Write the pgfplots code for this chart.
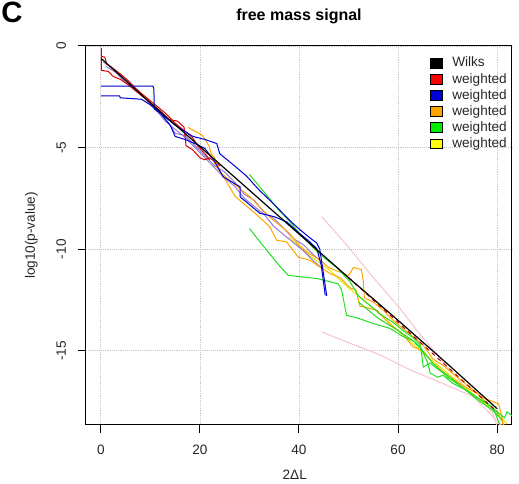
\documentclass[border=0pt]{standalone}
\usepackage{pgfplots}
\pgfplotsset{compat=1.18}
\usepackage{fontspec}
\setmainfont{Liberation Sans}
\definecolor{rred}{HTML}{E00000}
\definecolor{rblue}{HTML}{0000D0}
\definecolor{rorange}{HTML}{FFA500}
\definecolor{rgreen}{HTML}{22DD22}
\definecolor{lgreen}{HTML}{00EE00}
\definecolor{ryellow}{HTML}{FFFF00}
\definecolor{rpink}{HTML}{F4C4CC}
\definecolor{rpurple}{HTML}{7A5CC8}
\begin{document}
\begin{tikzpicture}[x=0.75pt,y=0.75pt]
\useasboundingbox (-86,-59) rectangle (433,425);
\clip (-86,-59) rectangle (433,425);
\node[anchor=north west, inner sep=0pt, font=\fontsize{22}{22}\selectfont\bfseries] at (-85,423) {C};
\begin{axis}[
  at={(0pt,0pt)}, anchor=south west,
  scale only axis, width=319.5pt, height=284.25pt,
  xmin=-3, xmax=83, ymin=-18.65, ymax=0,
  xtick={0,20,40,60,80}, xticklabels={0,20,40,60,80},
  ytick={-15,-10,-5,0}, yticklabels={-15,-10,-5,0},
  tick pos=left, tick align=outside, major tick length=6pt,
  tick style={black, line width=0.75pt},
  axis line style={black, line width=0.75pt},
  grid=major, grid style={densely dotted, gray!45, line width=0.6pt},
  ticklabel style={font=\fontsize{10.2}{12}\selectfont, text=black!85},
  xticklabel style={anchor=base, yshift=-16.5pt},
  yticklabel style={xshift=-9pt, rotate=90, anchor=base},
  title={free mass signal},
  title style={at={(0.5,1)}, anchor=base, yshift=13pt, font=\fontsize{12}{14}\selectfont\bfseries},
  xlabel={2ΔL},
  xlabel style={at={(axis description cs:0.49,-0.145)}, anchor=base, font=\fontsize{10.2}{12}\selectfont, text=black!85},
  ylabel={log10(p-value)},
  ylabel style={at={(axis description cs:-0.128,0.5)}, anchor=center, font=\fontsize{10.2}{12}\selectfont, text=black!85},
  legend cell align=left,
  legend style={draw=none, fill=none, at={(0.807,0.975)}, anchor=north west,
    inner sep=0pt, row sep=1.2pt, nodes={inner sep=1pt, font=\fontsize{10.2}{11}\selectfont, text=black!85}},
  legend image code/.code={\draw[#1, draw=black, line width=0.4pt] (0pt,-3.6pt) rectangle (9pt,3.6pt); \path[draw=none, fill=none] (0pt,0pt) -- (15.5pt,0pt);},
  every axis plot/.append style={line width=0.75pt},
]
% pink
\addplot[rpink, forget plot] coordinates {(44.6,-8.4) (50,-9.9) (55,-11.4) (60,-12.8) (63.8,-14.0) (70,-15.8) (75,-17.2) (81,-18.7)};
\addplot[rpink, forget plot] coordinates {(44.6,-14.07) (50,-14.6) (56.4,-15.2) (63,-16.0) (68,-16.5) (71.8,-16.9) (76.6,-17.4) (79,-18.0) (80,-18.7)};
% yellow
\addplot[ryellow!90!black, forget plot] coordinates {(38,-9.4) (42,-10.3) (46,-11.0) (50,-11.9) (55,-12.9) (60,-14.0) (65,-15.1) (70,-16.1) (75,-17.1) (80,-18.1) (82,-18.6)};
% purple
\addplot[rpurple, opacity=0.8, forget plot] coordinates {(0.5,-0.8) (2,-1.0) (4,-1.4) (6,-1.8) (8,-2.3) (10,-2.9) (12,-3.3) (14,-3.9) (15,-4.3) (17,-4.4) (19,-4.9) (21,-5.4) (23,-5.9) (25,-6.2) (27,-6.7) (29,-7.3) (31,-7.6) (33,-8.2) (35,-8.5) (37,-9.0) (39,-9.5) (41,-9.8) (43,-10.3) (45,-10.7)};
\addplot[rpurple, opacity=0.8, forget plot] coordinates {(1,-1.0) (3,-1.3) (5,-1.8) (7,-2.2) (9,-2.6) (11,-3.1) (13,-3.7) (15,-4.1) (17,-4.5) (19,-5.0) (21,-5.5) (23,-6.0) (25,-6.5) (27,-6.9) (29,-7.5) (31,-7.9) (33,-8.3) (35,-8.9) (37,-9.3) (39,-9.7) (41,-10.1) (43,-10.6) (45,-11.0)};
% red
\addplot[rred, forget plot] coordinates {(0.1,-0.1) (0.1,-1.2) (1.5,-1.25) (2.5,-1.5) (4,-1.65) (5.5,-1.9) (7,-2.2) (9,-2.6) (10.5,-2.9) (12,-3.2) (13.5,-3.6) (15.5,-3.7) (16.8,-4.0) (17.2,-4.9) (18.5,-5.1) (20,-5.5) (21,-5.6) (22,-5.5) (24,-5.9)};
\addplot[rred, forget plot] coordinates {(0.1,-0.5) (0.8,-0.55) (1.2,-0.9) (3,-1.2) (5,-1.6) (7,-2.1) (9,-2.5) (11,-2.9) (13,-3.3) (15,-3.8) (17,-4.2) (18.5,-4.5) (19.5,-4.9) (21,-5.3) (22,-5.6)};
% orange
\addplot[rorange, forget plot] coordinates {(17.6,-4.0) (20.5,-4.4) (21.8,-4.9) (22.3,-5.3) (23,-5.5) (24,-6.2) (26,-6.6) (28,-7.0) (30,-7.4) (32,-7.9) (34,-8.4) (36,-8.8) (38,-9.2) (40,-9.8) (42,-10.2) (44,-10.5) (46,-10.9) (48,-11.1) (50,-11.3) (51,-10.9) (52.6,-11.0) (53,-11.6) (53.2,-12.4) (55,-12.6) (57,-13.0) (59,-13.5) (61,-13.9) (63,-14.3) (65,-14.7) (67,-15.4) (69,-15.7) (71,-16.1) (73,-16.5) (75,-16.9) (77,-17.3) (79.2,-17.5) (80.3,-17.6) (81,-18.3) (81.3,-18.8)};
\addplot[rorange, forget plot] coordinates {(22,-5.3) (23,-5.8) (24.7,-6.4) (27.1,-7.4) (28.8,-7.75) (31,-8.2) (34.1,-8.9) (35.5,-9.56) (37.5,-9.64) (39.9,-10.4) (42.2,-10.54) (44.2,-10.87) (46.3,-11.2) (48.3,-11.4) (50.3,-11.9) (51.5,-12.0) (52.3,-12.8) (55.7,-13.0) (58.4,-13.7) (61,-14.2) (63,-14.8) (65,-15.0) (67,-15.6) (70,-16.2) (73,-16.7) (76,-17.1) (78,-17.6) (80,-18.0) (81.5,-18.7)};
% green
\addplot[rgreen, forget plot] coordinates {(30,-6.32) (33,-7.2) (36,-8.1) (38,-8.6) (40.2,-9.25) (42,-9.7) (44,-10.2) (46,-10.6) (47.6,-10.9) (50.3,-11.6) (52,-12.3) (54,-12.7) (56.4,-13.2) (59,-13.6) (61,-14.0) (63,-14.35) (64.5,-14.7) (65.1,-15.8) (66.5,-15.6) (68,-15.9) (70,-16.2) (72,-16.6) (74,-17.0) (76,-17.3) (78,-17.6) (80,-18.0) (81.5,-18.3) (82,-18.0) (83,-18.2)};
\addplot[rgreen, forget plot] coordinates {(30,-8.98) (32,-9.6) (34,-10.2) (36,-10.8) (37.8,-11.28) (40,-11.35) (43.6,-11.44) (47.9,-11.7) (48.6,-12.0) (49.6,-13.25) (52,-13.4) (55,-13.66) (58.4,-13.9) (61,-14.3) (63,-14.5) (64.5,-14.8) (66,-15.6) (66.5,-16.1) (68,-16.3) (69.1,-16.2) (71,-16.6) (73.9,-16.95) (76,-17.3) (78,-17.6) (79.2,-17.8) (80,-18.3) (80.6,-18.7)};
\addplot[rgreen, forget plot] coordinates {(52,-12.6) (56,-13.4) (60,-14.0) (63,-14.5) (65,-15.0) (67,-15.6) (70,-16.3) (73,-16.8) (76,-17.4) (79,-17.9) (81,-18.4)};
% blue
\addplot[rblue, forget plot] coordinates {(0,-1.97) (10.5,-1.97) (10.7,-2.1) (10.8,-3.1) (13,-3.5) (15,-3.9) (18.6,-4.45) (21,-4.6) (23.4,-4.8) (24,-5.3) (27,-5.9) (29.4,-6.4) (32,-7.1) (35,-7.8) (38.2,-8.6) (40,-9.0) (42,-9.4) (43.6,-9.7) (44.2,-10.0) (45.6,-12.3)};
\addplot[rblue, forget plot] coordinates {(0,-2.45) (3.8,-2.45) (3.9,-2.55) (8.2,-2.62) (10,-2.9) (12,-3.3) (14,-3.9) (15,-4.45) (17,-4.6) (19,-4.8) (21,-5.04) (23,-5.7) (24.7,-6.44) (28.1,-6.93) (28.1,-7.42) (32.1,-8.23) (35,-8.4) (37.5,-8.65) (40,-9.2) (42,-9.6) (43.6,-9.97) (44.5,-10.8) (45.3,-12.27)};
% dark red near Wilks
\addplot[rred!80!black, dashed, forget plot] coordinates {(50,-11.4) (55,-12.5) (60,-13.6) (65,-14.7) (70,-15.8) (75,-16.9) (80,-18.0)};
% Wilks
\addplot[black, line width=0.9pt, forget plot] coordinates {(0.1,-0.62) (10,-2.8) (20,-4.95) (30,-7.1) (40,-9.25) (50,-11.4) (60,-13.5) (70,-15.65) (80,-17.85)};
% legend
\addlegendimage{fill=black}
\addlegendentry{Wilks}
\addlegendimage{fill=red}
\addlegendentry{weighted}
\addlegendimage{fill=blue!85!black}
\addlegendentry{weighted}
\addlegendimage{fill=rorange}
\addlegendentry{weighted}
\addlegendimage{fill=lgreen}
\addlegendentry{weighted}
\addlegendimage{fill=ryellow}
\addlegendentry{weighted}
\end{axis}
\end{tikzpicture}
\end{document}
